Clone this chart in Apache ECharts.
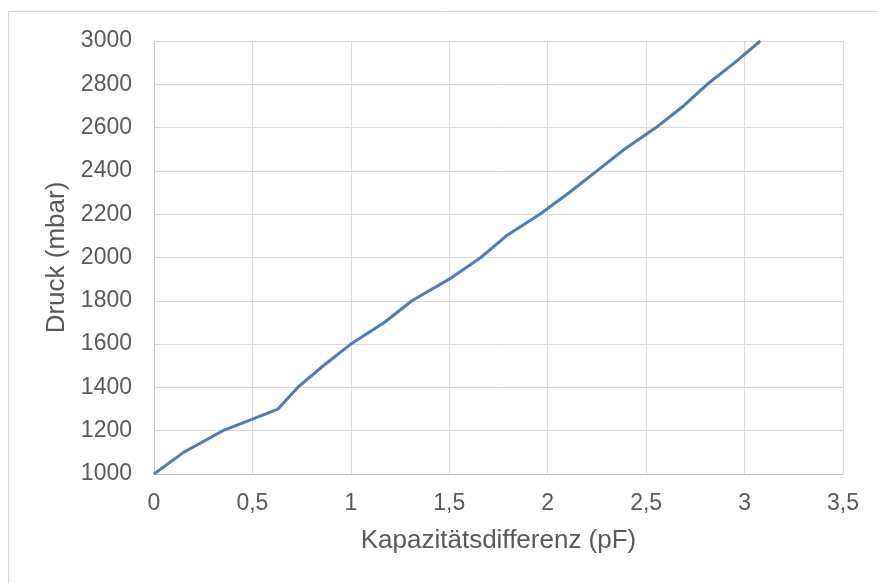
<!DOCTYPE html>
<html>
<head>
<meta charset="utf-8">
<script src="https://cdn.jsdelivr.net/npm/echarts@6/dist/echarts.min.js"></script>
<style>
html,body{margin:0;padding:0;background:#fff;}
#chart{width:877px;height:583px;}
</style>
</head>
<body>
<div id="chart"></div>
<script>
const capacitanceDiff = [0, 0.15, 0.35, 0.63, 0.73, 0.86, 1.0, 1.17, 1.31, 1.5, 1.66, 1.79, 1.96, 2.11, 2.25, 2.39, 2.55, 2.69, 2.81, 2.95, 3.08];
const pressure = [1000, 1100, 1200, 1300, 1400, 1500, 1600, 1700, 1800, 1900, 2000, 2100, 2200, 2300, 2400, 2500, 2600, 2700, 2800, 2900, 3000];
const xTitle = 'Kapazitätsdifferenz (pF)';
const yTitle = 'Druck (mbar)';

const points = capacitanceDiff.map((x, i) => [x, pressure[i]]);
const chart = echarts.init(document.getElementById('chart'));
const fontFam = '"Liberation Sans", Arial, sans-serif';
chart.setOption({
  animation: false,
  graphic: [{
    type: 'rect', shape: {x: 8.5, y: 11.5, width: 900, height: 600},
    style: {fill: 'none', stroke: '#d9d9d9', lineWidth: 1}, silent: true
  }],
  grid: {left: 154, right: 34, top: 41, bottom: 109, containLabel: false},
  xAxis: {
    type: 'value', min: 0, max: 3.5, interval: 0.5,
    name: xTitle, nameLocation: 'middle', nameGap: 54,
    nameTextStyle: {fontFamily: fontFam, fontSize: 26, color: '#595959'},
    axisLine: {show: true, lineStyle: {color: '#bfbfbf', width: 1}},
    axisTick: {show: false},
    axisLabel: {fontFamily: fontFam, fontSize: 23, color: '#595959', margin: 18,
      formatter: v => String(v).replace('.', ',')},
    splitLine: {show: true, lineStyle: {color: '#d9d9d9', width: 1}}
  },
  yAxis: {
    type: 'value', min: 1000, max: 3000, interval: 200,
    name: yTitle, nameLocation: 'middle', nameGap: 84,
    nameTextStyle: {fontFamily: fontFam, fontSize: 26, color: '#595959'},
    axisLine: {show: true, lineStyle: {color: '#bfbfbf', width: 1}},
    axisTick: {show: false},
    axisLabel: {fontFamily: fontFam, fontSize: 23, color: '#595959', margin: 22,
      formatter: v => String(v)},
    splitLine: {show: true, lineStyle: {color: '#d9d9d9', width: 1}}
  },
  series: [{
    type: 'line', data: points, showSymbol: false, symbol: 'none',
    lineStyle: {color: '#4a7ebb', width: 3}, smooth: false
  }]
});
</script>
</body>
</html>
